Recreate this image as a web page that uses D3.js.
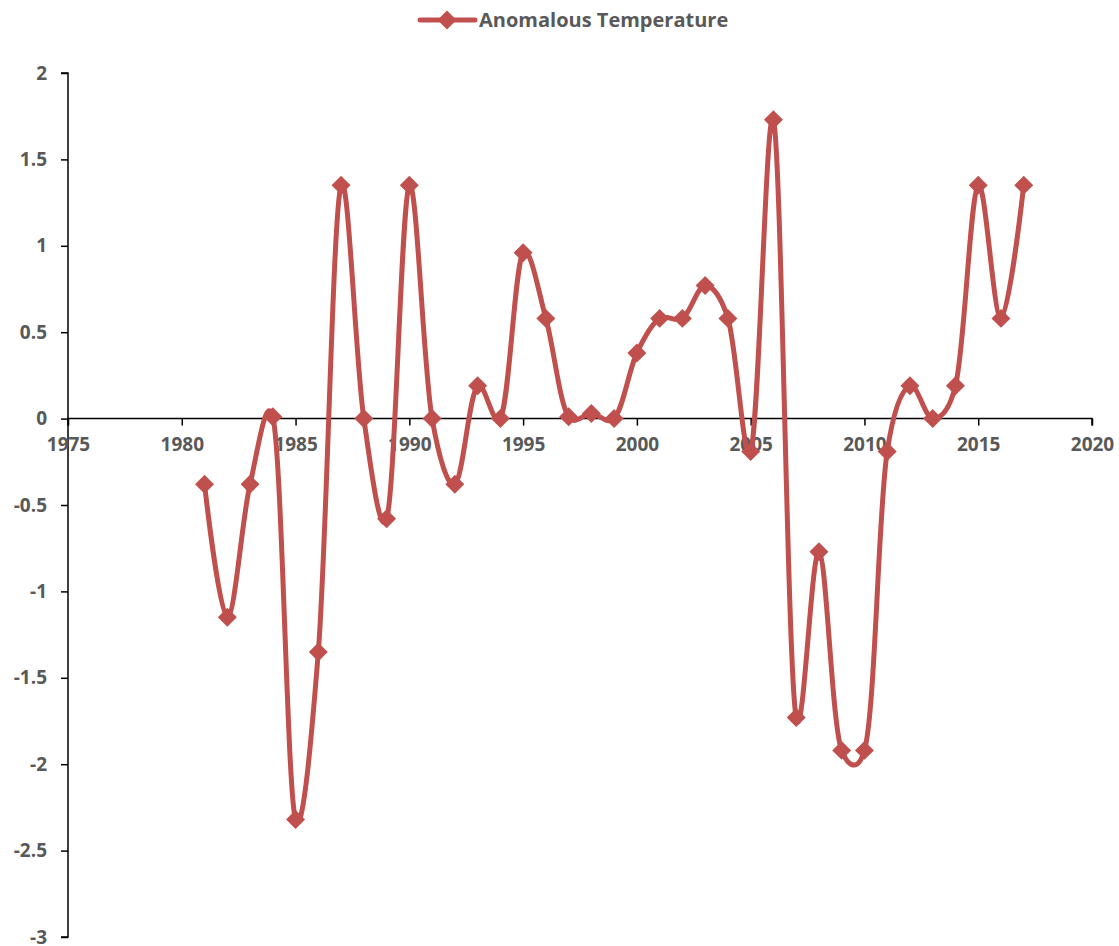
<!DOCTYPE html>
<html>
<head>
<meta charset="utf-8">
<script src="https://cdn.jsdelivr.net/npm/d3@7"></script>
<style>
  body { margin: 0; background: #fff; }
  text { font-family: "Open Sans", "Noto Sans", sans-serif; font-weight: bold; fill: #595959; }
</style>
</head>
<body>
<div id="chart"></div>
<script>
const years = [1981, 1982, 1983, 1984, 1985, 1986, 1987, 1988, 1989, 1990,
               1991, 1992, 1993, 1994, 1995, 1996, 1997, 1998, 1999, 2000,
               2001, 2002, 2003, 2004, 2005, 2006, 2007, 2008, 2009, 2010,
               2011, 2012, 2013, 2014, 2015, 2016, 2017];
const anomaly = [-0.38, -1.15, -0.38, 0.01, -2.32, -1.35, 1.35, 0, -0.58, 1.35,
                 0, -0.38, 0.19, 0, 0.96, 0.58, 0.01, 0.03, 0, 0.38,
                 0.58, 0.58, 0.77, 0.58, -0.19, 1.73, -1.73, -0.77, -1.92, -1.92,
                 -0.19, 0.19, 0, 0.19, 1.35, 0.58, 1.35];
const xTicks = [1975, 1980, 1985, 1990, 1995, 2000, 2005, 2010, 2015, 2020];
const yTicks = [2, 1.5, 1, 0.5, 0, -0.5, -1, -1.5, -2, -2.5, -3];
const seriesName = "Anomalous Temperature";

const width = 1119, height = 946;
const red = "#C0504D";

const svg = d3.select("#chart").append("svg").attr("width", width).attr("height", height);

const x = d3.scaleLinear().domain([1975, 2020]).range([68, 1092]);
const y = d3.scaleLinear().domain([-3, 2]).range([937, 73]);

// y axis
svg.append("g")
  .attr("transform", "translate(68,0)")
  .call(d3.axisLeft(y).tickValues(yTicks).tickFormat(d => d).tickSize(7).tickPadding(14))
  .call(g => g.selectAll("path, line").attr("stroke", "#000").attr("stroke-width", 1.5))
  .call(g => g.select(".domain").attr("d", `M-7,73H0V937H-7`))
  .call(g => g.selectAll("text").attr("font-size", 19).attr("font-family", null));

// x axis along zero
svg.append("g")
  .attr("transform", `translate(0,${y(0)})`)
  .call(d3.axisBottom(x).tickValues(xTicks).tickFormat(d3.format("d")).tickSize(7).tickPadding(12))
  .call(g => g.selectAll("path, line").attr("stroke", "#000").attr("stroke-width", 1.5))
  .call(g => g.select(".domain").attr("d", `M68,7V0H1092V7`))
  .call(g => g.selectAll("text").attr("font-size", 19).attr("font-family", null));

const data = years.map((yr, i) => ({yr, v: anomaly[i]}));

// smoothed line, roughly like the spreadsheet's smoothing
const line = d3.line()
  .x(d => x(d.yr))
  .y(d => y(d.v))
  .curve(d3.curveCatmullRom.alpha(0.2));

svg.append("path")
  .datum(data)
  .attr("fill", "none")
  .attr("stroke", red)
  .attr("stroke-width", 5)
  .attr("stroke-linejoin", "round")
  .attr("d", line);

const diamond = d3.symbol().type(d3.symbolDiamond2).size(230);

svg.selectAll("path.pt").data(data)
  .join("path")
  .attr("class", "pt")
  .attr("transform", d => `translate(${x(d.yr)},${y(d.v)})`)
  .attr("d", diamond)
  .attr("fill", red);

// legend
const lg = svg.append("g").attr("transform", "translate(0,20)");
lg.append("line").attr("x1", 420).attr("x2", 475).attr("y1", 0).attr("y2", 0)
  .attr("stroke", red).attr("stroke-width", 5).attr("stroke-linecap", "round");
lg.append("path").attr("transform", "translate(447,0)").attr("d", diamond).attr("fill", red);
lg.append("text").attr("x", 479).attr("y", 7).attr("font-size", 20).text(seriesName);
</script>
</body>
</html>
